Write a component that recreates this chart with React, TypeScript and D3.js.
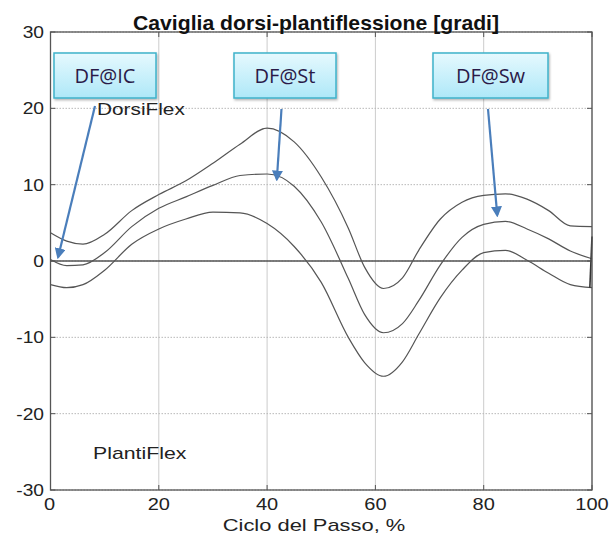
import React from 'react';
import * as d3 from 'd3';

// ciclo del passo (%) where the curves were read
const cycle = [0, 3, 6, 10, 15, 20, 25, 30, 35, 40, 45, 50, 55, 58, 61.5, 65, 68, 72, 76, 80, 84, 88, 92, 96, 100];
// media + DS, media, media - DS
const upper = [3.7, 2.6, 2.2, 3.5, 6.6, 8.7, 10.5, 12.8, 15.3, 17.4, 15.6, 11.0, 4.3, -0.8, -3.6, -2.2, 1.4, 5.5, 7.7, 8.6, 8.8, 8.1, 6.6, 4.6, 4.5];
const middle = [0.2, -0.6, -0.5, 1.1, 4.5, 6.9, 8.4, 9.9, 11.2, 11.4, 9.8, 5.1, -2.3, -7.0, -9.4, -8.2, -5.2, -0.5, 3.1, 4.8, 5.2, 4.2, 2.9, 1.3, 0.3];
const lower = [-3.1, -3.5, -3.1, -1.2, 2.2, 4.2, 5.5, 6.4, 6.3, 4.9, 1.9, -2.8, -10.0, -13.3, -15.1, -13.2, -9.6, -4.8, -1.2, 1.1, 1.4, 0.1, -1.6, -3.1, -3.5];
const tailX = [99.6, 100];
const tailY = [-3.5, 3.2];

const xTicks = [0, 20, 40, 60, 80, 100];
const yTicks = [-30, -20, -10, 0, 10, 20, 30];

// callouts: label, arrow tip (data coords)
const calloutLabels = ['DF@IC', 'DF@St', 'DF@Sw'];
const calloutTipX = [1.4, 41.8, 82.5];
const calloutTipY = [0.5, 10.7, 6.0];

const W = 609;
const H = 534;

// text that is a bit wider than the font, like the picture
const Wide = ({ x, y, sx = 1.3, anchor = 'start', size = 16, weight = 'normal', fill = '#222', children }: any) => (
  <text transform={`translate(${x},${y}) scale(${sx},1)`} textAnchor={anchor} fontSize={size}
    fontWeight={weight} fill={fill}>{children}</text>
);

const App = () => {
  const x = d3.scaleLinear().domain([0, 100]).range([50.5, 592]);
  const y = d3.scaleLinear().domain([-30, 30]).range([490, 32]);

  const line = d3
    .line<number>()
    .x((d, i) => x(cycle[i]))
    .y((d) => y(d))
    .curve(d3.curveMonotoneX);

  const tail = d3
    .line<number>()
    .x((d, i) => x(tailX[i]))
    .y((d) => y(d));

  const [x0, x1] = x.range();
  const [y0, y1] = y.range();

  // box geometry in pixels (left edge, width) and arrow start
  const boxLeft = [54, 234, 433];
  const boxWidth = [102, 102, 115];
  const arrowStart = [[95, 106], [281.5, 109], [488, 109]];

  return (
    <svg width={W} height={H} style={{ position: 'absolute', left: 0, top: 0, background: '#fff' }}
      fontFamily="'Liberation Sans', Arial, sans-serif">
      <defs>
        <linearGradient id="boxFill" x1="0" y1="0" x2="0" y2="1">
          <stop offset="0%" stopColor="#e6f9fe" />
          <stop offset="100%" stopColor="#aee8f8" />
        </linearGradient>
        <marker id="arrow" viewBox="0 0 10 10" refX="8" refY="5" markerWidth="5" markerHeight="5" orient="auto">
          <path d="M0,0 L10,5 L0,10 z" fill="#4a7ebb" />
        </marker>
        <filter id="shadow" x="-10%" y="-10%" width="130%" height="140%">
          <feDropShadow dx="1" dy="1.5" stdDeviation="1.2" floodColor="#000" floodOpacity="0.3" />
        </filter>
      </defs>

      {/* grid */}
      {xTicks.map((t) => (
        <line key={'gx' + t} x1={x(t)} x2={x(t)} y1={y1} y2={y0} stroke="#cccccc" strokeWidth={1} />
      ))}
      {yTicks.map((t) => (
        <line key={'gy' + t} x1={x0} x2={x1} y1={y(t)} y2={y(t)} stroke="#b8b8b8" strokeWidth={1} strokeDasharray="1.5,1.5" />
      ))}

      {/* zero line */}
      <line x1={x0} x2={x1} y1={y(0)} y2={y(0)} stroke="#555" strokeWidth={1.4} />

      {/* curves */}
      {[upper, middle, lower].map((s, i) => (
        <path key={'c' + i} d={line(s) || ''} fill="none" stroke="#555" strokeWidth={1.2} />
      ))}
      <path d={tail(tailY) || ''} fill="none" stroke="#333" strokeWidth={1.6} />

      {/* axes box */}
      <rect x={x0} y={y1} width={x1 - x0} height={y0 - y1} fill="none" stroke="#555" strokeWidth={1.3} />
      {xTicks.map((t) => (
        <g key={'tx' + t}>
          <line x1={x(t)} x2={x(t)} y1={y0} y2={y0 - 5} stroke="#555" />
          <line x1={x(t)} x2={x(t)} y1={y1} y2={y1 + 5} stroke="#555" />
          <Wide x={x(t) - (t === 0 ? 1 : 0)} y={510} anchor="middle" sx={1.25}>{t}</Wide>
        </g>
      ))}
      {yTicks.map((t) => (
        <g key={'ty' + t}>
          <line x1={x0} x2={x0 + 5} y1={y(t)} y2={y(t)} stroke="#555" />
          <line x1={x1} x2={x1 - 5} y1={y(t)} y2={y(t)} stroke="#555" />
          <Wide x={44} y={y(t) + 6} anchor="end" sx={1.2}>{t}</Wide>
        </g>
      ))}

      {/* labels */}
      <Wide x={316} y={30} anchor="middle" size={20} weight="bold" sx={1.06} fill="#111">
        Caviglia dorsi-plantiflessione [gradi]
      </Wide>
      <Wide x={314} y={531} anchor="middle" sx={1.37}>Ciclo del Passo, %</Wide>
      <Wide x={97} y={115} sx={1.3}>DorsiFlex</Wide>
      <Wide x={93} y={459} sx={1.33}>PlantiFlex</Wide>

      {/* callouts */}
      {calloutLabels.map((lab, i) => (
        <g key={lab}>
          <line
            x1={arrowStart[i][0]}
            y1={arrowStart[i][1]}
            x2={x(calloutTipX[i])}
            y2={y(calloutTipY[i])}
            stroke="#4a7ebb"
            strokeWidth={2.2}
            markerEnd="url(#arrow)"
          />
          <rect x={boxLeft[i]} y={53} width={boxWidth[i]} height={45} fill="url(#boxFill)" stroke="#3fb2ca"
            strokeWidth={1.5} filter="url(#shadow)" />
          <text x={boxLeft[i] + boxWidth[i] / 2} y={83} textAnchor="middle" fontSize={20}
            fontFamily="'Open Sans', sans-serif" fill="#2a1a48">{lab}</text>
        </g>
      ))}
    </svg>
  );
};

export default App;
